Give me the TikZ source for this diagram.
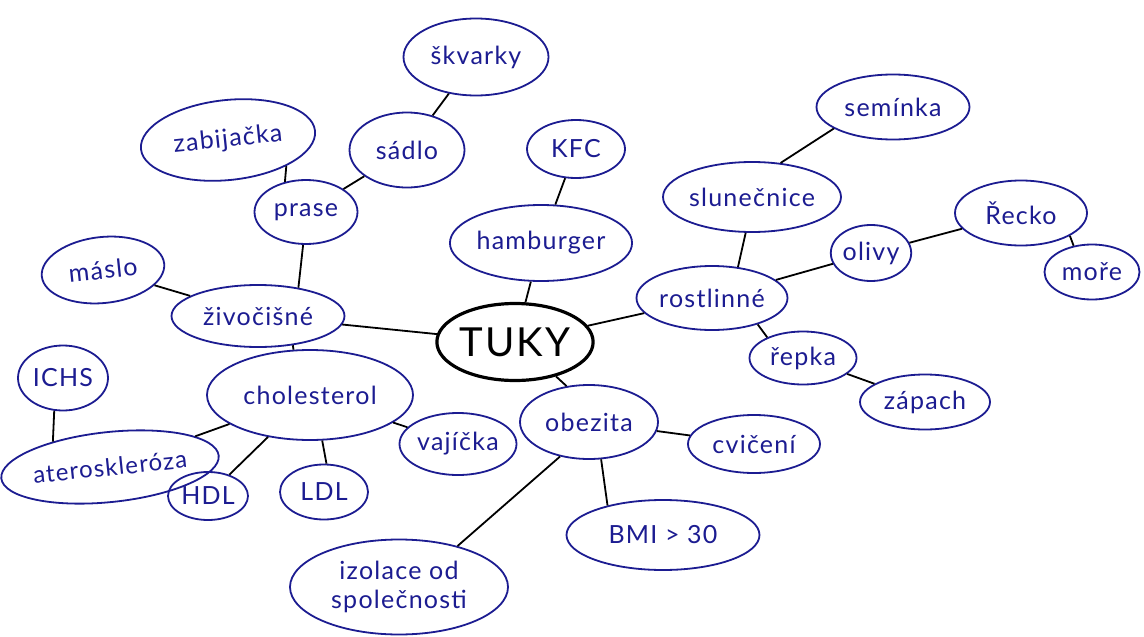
\documentclass[tikz,border=0pt]{standalone}
\usepackage{fontspec}
\setmainfont{Lato}[LetterSpace=5]
\usetikzlibrary{shapes.geometric}
\definecolor{ink}{RGB}{28,28,145}
\tikzset{
  bub/.style={ellipse, draw=ink, line width=1.8pt, text=ink, inner sep=0pt,
    font=\fontsize{25}{29}\selectfont},
  hub/.style={ellipse, draw=black, line width=3.2pt, text=black, inner sep=0pt,
    font=\fontsize{40}{44}\selectfont},
  link/.style={draw=black, line width=1.8pt}
}
\begin{document}
\begin{tikzpicture}[x=1pt,y=-1pt]
\path[use as bounding box, fill=white] (0,0) rectangle (1144,637);

\node[hub, minimum width=145pt, minimum height=77pt] (tuky) at (515,342) {TUKY};

\node[bub, minimum width=173pt, minimum height=62pt] (ziv) at (258,316) {živočišné};
\node[bub, minimum width=123pt, minimum height=66pt, rotate=6] (maslo) at (103,270) {máslo};
\node[bub, minimum width=103pt, minimum height=64pt] (prase) at (306,212) {prase};
\node[bub, minimum width=175pt, minimum height=80pt, rotate=6] (zab) at (228,140) {zabijačka};
\node[bub, minimum width=115pt, minimum height=75pt] (sadlo) at (407,150) {sádlo};
\node[bub, minimum width=145pt, minimum height=77pt] (skv) at (476,57) {škvarky};

\node[bub, minimum width=182pt, minimum height=76pt] (hamb) at (541,243) {hamburger};
\node[bub, minimum width=98pt, minimum height=58pt] (kfc) at (576,149) {KFC};

\node[bub, minimum width=151pt, minimum height=64pt] (rost) at (712,298) {rostlinné};
\node[bub, minimum width=171pt, minimum height=70pt] (slun) at (752,197) {slunečnice};
\node[bub, minimum width=153pt, minimum height=65pt] (sem) at (893,107) {semínka};
\node[bub, minimum width=56pt, minimum height=56pt] (oliv) at (871,253) {olivy};
\node[bub, minimum width=132pt, minimum height=65pt] (recko) at (1021,213) {Řecko};
\node[bub, minimum width=95pt, minimum height=55pt] (more) at (1092,272) {moře};
\node[bub, minimum width=107pt, minimum height=53pt] (repka) at (803,358) {řepka};
\node[bub, minimum width=130pt, minimum height=55pt] (zapach) at (925,402) {zápach};

\node[bub, minimum width=138pt, minimum height=74pt] (obez) at (589,422) {obezita};
\node[bub, minimum width=132pt, minimum height=58pt] (cvic) at (754,444) {cvičení};
\node[bub, minimum width=193pt, minimum height=70pt] (bmi) at (663,535) {BMI > 30};
\node[bub, minimum width=218pt, minimum height=95pt, align=center] (izol) at (399,587) {izolace od\\společnosti};

\node[bub, minimum width=117pt, minimum height=62pt] (vaj) at (458,444) {vajíčka};
\node[bub, minimum width=206pt, minimum height=90pt] (chol) at (310,395) {cholesterol};
\node[bub, minimum width=90pt, minimum height=65pt] (ichs) at (63,378) {ICHS};
\node[bub, minimum width=206pt, minimum height=70pt, rotate=6,
  font=\fontsize{24}{28}\selectfont] (ather) at (110,467) {ateroskleróza};
\node[bub, minimum width=80pt, minimum height=48pt] (hdl) at (208,496) {HDL};
\node[bub, minimum width=88pt, minimum height=55pt] (ldl) at (324,492) {LDL};

\draw[link] (tuky) -- (ziv);
\draw[link] (tuky) -- (hamb);
\draw[link] (tuky) -- (rost);
\draw[link] (tuky.-40) -- (obez.122);

\draw[link] (ziv) -- (maslo);
\draw[link] (ziv.35) -- (prase.-95);
\draw[link] (ziv.-40) -- (chol.110);
\draw[link] (prase.125) -- (zab.-30);
\draw[link] (prase) -- (sadlo);
\draw[link] (sadlo) -- (skv);

\draw[link] (hamb) -- (kfc);

\draw[link] (rost.50) -- (slun.-100);
\draw[link] (slun.50) -- (sem.200);
\draw[link] (rost) -- (oliv);
\draw[link] (oliv) -- (recko);
\draw[link] (recko.-25) -- (more.125);
\draw[link] (rost.-30) -- (repka.150);
\draw[link] (repka) -- (zapach);

\draw[link] (obez) -- (cvic);
\draw[link] (obez.-72) -- (bmi.152);
\draw[link] (obez.-130) -- (izol.35);

\draw[link] (chol) -- (vaj);
\draw[link] (chol) -- (ather);
\draw[link] (chol.-135) -- (hdl.45);
\draw[link] (chol.-75) -- (ldl.85);
\draw[link] (ichs.-105) -- (ather.150);
\end{tikzpicture}
\end{document}
